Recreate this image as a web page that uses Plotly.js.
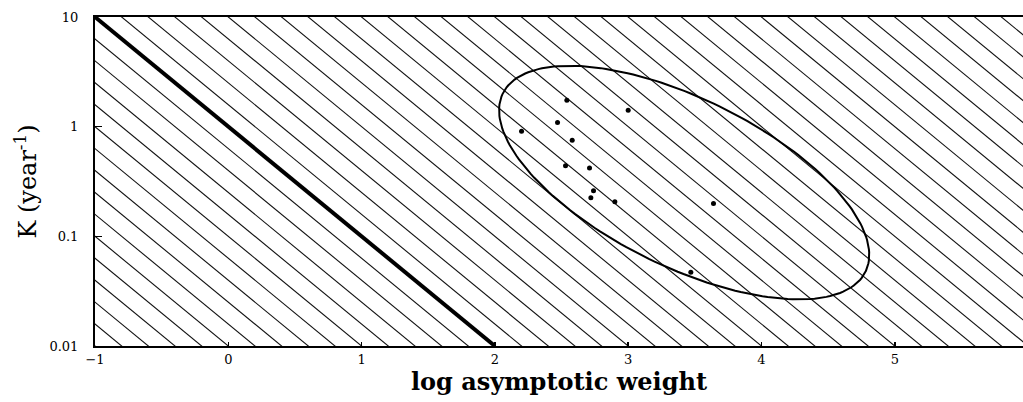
<!DOCTYPE html>
<html>
<head>
<meta charset="utf-8">
<script src="https://cdn.plot.ly/plotly-3.0.1.min.js"></script>
<style>html,body{margin:0;padding:0;background:#fff;}#chart{width:1023px;height:402px;}</style>
</head>
<body>
<div id="chart"></div>
<script>
// Observed species: log asymptotic weight vs K (year^-1)
const logWeight = [2.54, 3.00, 2.47, 2.20, 2.58, 2.53, 2.71, 2.74, 2.72, 2.90, 3.64, 3.47];
const growthK   = [1.74, 1.41, 1.09, 0.91, 0.75, 0.44, 0.42, 0.26, 0.225, 0.207, 0.199, 0.047];

// Boundary line (thick)
const boundaryX = [-1, 2];
const boundaryK = [10, 0.01];

// Ellipse enclosing the observations (center in x / log10 K, and two semi-axis vectors)
const ellipseCenter = [3.42, -0.51];
const ellipseAxisA  = [1.363, -0.807];
const ellipseAxisB  = [-0.265, -0.695];

// Axis ticks
const xTicks = [-1, 0, 1, 2, 3, 4, 5];
const yTicks = [0.01, 0.1, 1, 10];
const yTickText = ['0.01', '0.1', '1', '10'];

// Hatching (decorative, parallel to boundary line)
const hatchStep = 0.2;
const hx = [], hy = [];
for (let c = -4; c <= 8.001; c += hatchStep) {
  const x1 = c - 1.5, x2 = c + 2.5;
  hx.push(x1, x2, null);
  hy.push(Math.pow(10, c - x1), Math.pow(10, c - x2), null);
}

const ex = [], ey = [];
for (let i = 0; i <= 200; i++) {
  const t = 2 * Math.PI * i / 200;
  ex.push(ellipseCenter[0] + ellipseAxisA[0] * Math.cos(t) + ellipseAxisB[0] * Math.sin(t));
  ey.push(Math.pow(10, ellipseCenter[1] + ellipseAxisA[1] * Math.cos(t) + ellipseAxisB[1] * Math.sin(t)));
}

const traces = [
  {x: hx, y: hy, mode: 'lines', line: {color: '#111', width: 1.1}, hoverinfo: 'skip', showlegend: false},
  {x: boundaryX, y: boundaryK, mode: 'lines', line: {color: '#000', width: 4}, showlegend: false},
  {x: ex, y: ey, mode: 'lines', line: {color: '#000', width: 2}, showlegend: false},
  {x: logWeight, y: growthK, mode: 'markers', marker: {color: '#000', size: 5}, showlegend: false}
];

const serif = 'DejaVu Serif, serif';
const layout = {
  width: 1023, height: 402,
  margin: {l: 95, r: 0, t: 17, b: 56},
  paper_bgcolor: '#fff', plot_bgcolor: '#fff',
  font: {family: serif, color: '#000'},
  xaxis: {
    range: [-1, 5.962], tickvals: xTicks, ticktext: xTicks.map(v => v < 0 ? '\u2212' + Math.abs(v) : String(v)),
    showgrid: false, zeroline: false, showline: true, linecolor: '#000', linewidth: 2, mirror: true,
    ticks: 'inside', ticklen: 4, tickcolor: '#000', tickwidth: 1.5,
    tickfont: {family: serif, size: 13, color: '#000'}, ticklabelstandoff: 0,
    title: {text: '<b>log asymptotic weight</b>', font: {family: serif, size: 24, color: '#000'}, standoff: 2}
  },
  yaxis: {
    type: 'log', range: [-2, 1], tickvals: yTicks, ticktext: yTickText,
    showgrid: false, zeroline: false, showline: true, linecolor: '#000', linewidth: 2,
    ticks: 'inside', ticklen: 7, tickcolor: '#000', tickwidth: 1.5,
    tickfont: {family: serif, size: 13, color: '#000'}, ticklabelstandoff: 12,
    title: {text: 'K (year<sup>-1</sup>)', font: {family: serif, size: 24, color: '#000'}, standoff: 6}
  }
};

Plotly.newPlot('chart', traces, layout, {displayModeBar: false, staticPlot: true});
</script>
</body>
</html>
